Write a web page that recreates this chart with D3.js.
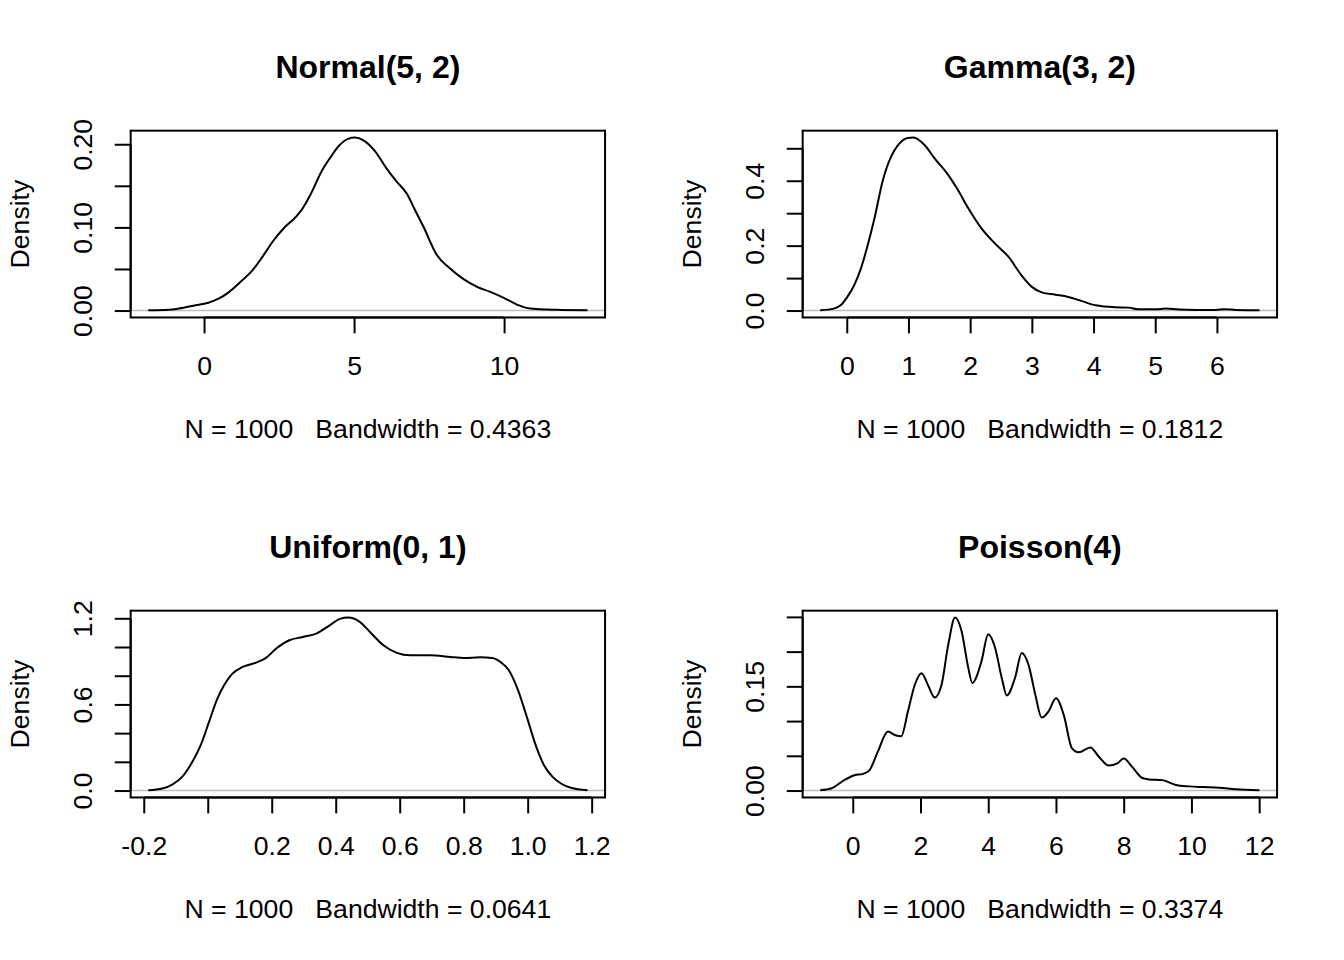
<!DOCTYPE html>
<html>
<head>
<meta charset="utf-8">
<script src="https://cdn.jsdelivr.net/npm/d3@7/dist/d3.min.js"></script>
<style>
  html, body { margin: 0; padding: 0; background: #fff; }
  svg { display: block; }
  text { font-family: "Liberation Sans", Arial, sans-serif; fill: #000; }
</style>
</head>
<body>
<svg id="chart" width="1344" height="960"></svg>
<script>
// ---------------- data ----------------
const titles = ["Normal(5, 2)", "Gamma(3, 2)", "Uniform(0, 1)", "Poisson(4)"];
const xLabels = [
  "N = 1000   Bandwidth = 0.4363",
  "N = 1000   Bandwidth = 0.1812",
  "N = 1000   Bandwidth = 0.0641",
  "N = 1000   Bandwidth = 0.3374"
];
const yLabel = "Density";

const normalDensity = [
  [-1.86,0.0004],[-1.17,0.001],[-0.84,0.0024],[-0.28,0.0064],[0.17,0.0097],[0.50,0.0145],
  [0.84,0.0225],[1.28,0.0366],[1.62,0.0487],[1.95,0.0648],[2.29,0.083],[2.68,0.0998],
  [3.07,0.113],[3.29,0.123],[3.57,0.141],[3.91,0.167],[4.19,0.183],[4.52,0.199],
  [4.80,0.2065],[5.03,0.208],[5.30,0.205],[5.69,0.192],[6.08,0.171],[6.42,0.155],
  [6.75,0.141],[7.03,0.121],[7.31,0.101],[7.76,0.0667],[8.20,0.0506],[8.65,0.0378],
  [9.10,0.0285],[9.54,0.0225],[9.99,0.0153],[10.43,0.0072],[10.88,0.0024],[11.44,0.0012],
  [11.89,0.0008],[12.78,0.0004]
];
const normalXTicks = [0, 5, 10];
const normalXTickLabels = ["0", "5", "10"];
const normalYTicks = [0, 0.05, 0.10, 0.15, 0.20];
const normalYTickLabels = ["0.00", "", "0.10", "", "0.20"];

const gammaDensity = [
  [-0.43,0.001],[-0.21,0.006],[-0.10,0.016],[0.01,0.042],[0.12,0.078],[0.23,0.130],
  [0.34,0.202],[0.45,0.285],[0.58,0.398],[0.72,0.475],[0.83,0.510],[0.99,0.532],
  [1.08,0.533],[1.26,0.510],[1.42,0.470],[1.64,0.419],[1.80,0.372],[1.97,0.315],
  [2.18,0.254],[2.40,0.207],[2.62,0.166],[2.83,0.109],[3.00,0.073],[3.16,0.056],
  [3.38,0.049],[3.59,0.042],[3.81,0.029],[4.03,0.016],[4.35,0.010],[4.57,0.009],
  [4.73,0.004],[5.01,0.004],[5.17,0.006],[5.39,0.003],[5.66,0.002],[5.98,0.002],
  [6.12,0.004],[6.31,0.002],[6.69,0.001]
];
const gammaXTicks = [0, 1, 2, 3, 4, 5, 6];
const gammaXTickLabels = ["0", "1", "2", "3", "4", "5", "6"];
const gammaYTicks = [0, 0.1, 0.2, 0.3, 0.4, 0.5];
const gammaYTickLabels = ["0.0", "", "0.2", "", "0.4", ""];

const uniformDensity = [
  [-0.186,0.002],[-0.142,0.014],[-0.111,0.042],[-0.080,0.095],[-0.048,0.200],[-0.022,0.316],
  [0.004,0.478],[0.030,0.641],[0.051,0.734],[0.077,0.815],[0.109,0.861],[0.151,0.891],
  [0.182,0.924],[0.214,0.989],[0.255,1.047],[0.297,1.070],[0.339,1.093],[0.381,1.151],
  [0.413,1.196],[0.439,1.205],[0.475,1.175],[0.507,1.105],[0.549,1.012],[0.591,0.959],
  [0.632,0.942],[0.695,0.942],[0.758,0.931],[0.800,0.924],[0.852,0.928],[0.889,0.924],
  [0.915,0.896],[0.941,0.838],[0.968,0.710],[0.999,0.501],[1.025,0.316],[1.051,0.176],
  [1.078,0.095],[1.104,0.049],[1.135,0.019],[1.187,0.002]
];
const uniformXTicks = [-0.2, 0.0, 0.2, 0.4, 0.6, 0.8, 1.0, 1.2];
const uniformXTickLabels = ["-0.2", "", "0.2", "0.4", "0.6", "0.8", "1.0", "1.2"];
const uniformYTicks = [0, 0.2, 0.4, 0.6, 0.8, 1.0, 1.2];
const uniformYTickLabels = ["0.0", "", "", "0.6", "", "", "1.2"];

const poissonDensity = [
  [-0.96,0.0005],[-0.64,0.003],[-0.25,0.015],[0.05,0.022],[0.30,0.024],[0.49,0.029],
  [0.74,0.056],[1.04,0.085],[1.24,0.080],[1.43,0.078],[1.63,0.114],[1.83,0.152],
  [2.03,0.169],[2.22,0.152],[2.42,0.134],[2.62,0.152],[2.82,0.210],[3.02,0.249],
  [3.21,0.230],[3.41,0.177],[3.53,0.155],[3.80,0.186],[4.00,0.225],[4.20,0.206],
  [4.40,0.162],[4.55,0.137],[4.79,0.162],[4.99,0.198],[5.19,0.181],[5.39,0.138],
  [5.58,0.105],[5.78,0.114],[6.00,0.133],[6.23,0.109],[6.47,0.061],[6.67,0.055],
  [7.02,0.062],[7.26,0.049],[7.56,0.036],[7.81,0.039],[8.00,0.046],[8.25,0.034],
  [8.55,0.018],[8.75,0.016],[9.14,0.015],[9.54,0.008],[9.93,0.006],[10.33,0.005],
  [10.82,0.004],[11.31,0.002],[12.01,0.0005]
];
const poissonXTicks = [0, 2, 4, 6, 8, 10, 12];
const poissonXTickLabels = ["0", "2", "4", "6", "8", "10", "12"];
const poissonYTicks = [0, 0.05, 0.10, 0.15, 0.20, 0.25];
const poissonYTickLabels = ["0.00", "", "", "0.15", "", ""];

// ---------------- layout ----------------
const panels = [
  { data: normalDensity, xt: normalXTicks, xl: normalXTickLabels, yt: normalYTicks, yl: normalYTickLabels },
  { data: gammaDensity, xt: gammaXTicks, xl: gammaXTickLabels, yt: gammaYTicks, yl: gammaYTickLabels },
  { data: uniformDensity, xt: uniformXTicks, xl: uniformXTickLabels, yt: uniformYTicks, yl: uniformYTickLabels },
  { data: poissonDensity, xt: poissonXTicks, xl: poissonXTickLabels, yt: poissonYTicks, yl: poissonYTickLabels }
];

const svg = d3.select("#chart");
const cellW = 672, cellH = 480;
const lineH = 31.87;
const mar = { bottom: 5.1 * lineH, left: 4.1 * lineH, top: 4.1 * lineH, right: 2.1 * lineH };
const axisFont = 26.6, titleFont = 32;
const tickLen = 15.9;
const lw = 2;

function padDomain(ext) {
  const r = ext[1] - ext[0];
  return [ext[0] - 0.04 * r, ext[1] + 0.04 * r];
}

panels.forEach((p, i) => {
  const col = i % 2, row = Math.floor(i / 2);
  const x0 = col * cellW + mar.left;
  const x1 = (col + 1) * cellW - mar.right;
  const y0 = row * cellH + mar.top;
  const y1 = (row + 1) * cellH - mar.bottom;

  const xs = d3.scaleLinear().domain(padDomain(d3.extent(p.data, d => d[0]))).range([x0, x1]);
  const yExt = d3.extent([0].concat(p.data.map(d => d[1])));
  const ys = d3.scaleLinear().domain(padDomain(yExt)).range([y1, y0]);

  const g = svg.append("g");

  // zero line
  g.append("line")
    .attr("x1", x0).attr("x2", x1)
    .attr("y1", ys(0)).attr("y2", ys(0))
    .attr("stroke", "#bebebe").attr("stroke-width", 1.5);

  // density curve
  const line = d3.line().x(d => xs(d[0])).y(d => ys(d[1])).curve(d3.curveMonotoneX);
  g.append("path").datum(p.data)
    .attr("d", line)
    .attr("fill", "none").attr("stroke", "#000").attr("stroke-width", lw)
    .attr("stroke-linejoin", "round");

  // box
  g.append("rect")
    .attr("x", x0).attr("y", y0).attr("width", x1 - x0).attr("height", y1 - y0)
    .attr("fill", "none").attr("stroke", "#000").attr("stroke-width", lw);

  // x axis
  const xAxis = d3.axisBottom(xs).tickValues(p.xt).tickSize(tickLen).tickSizeOuter(0)
    .tickFormat((d, k) => p.xl[k]);
  const gx = g.append("g").attr("transform", `translate(0,${y1})`).call(xAxis);
  gx.select(".domain")
    .attr("d", `M${xs(p.xt[0])},0H${xs(p.xt[p.xt.length - 1])}`)
    .attr("stroke", "#000").attr("stroke-width", lw);
  gx.selectAll(".tick line").attr("stroke", "#000").attr("stroke-width", lw);
  gx.selectAll(".tick text")
    .attr("y", 57.5).attr("dy", null)
    .attr("font-size", axisFont)
    .style("font-family", '"Liberation Sans", Arial, sans-serif')
    .attr("fill", "#000");

  // y axis
  const yAxis = d3.axisLeft(ys).tickValues(p.yt).tickSize(tickLen).tickSizeOuter(0)
    .tickFormat((d, k) => p.yl[k]);
  const gy = g.append("g").attr("transform", `translate(${x0},0)`).call(yAxis);
  gy.select(".domain")
    .attr("d", `M0,${ys(p.yt[0])}V${ys(p.yt[p.yt.length - 1])}`)
    .attr("stroke", "#000").attr("stroke-width", lw);
  gy.selectAll(".tick line").attr("stroke", "#000").attr("stroke-width", lw);
  gy.selectAll(".tick text")
    .attr("x", null).attr("dy", null)
    .attr("transform", "translate(-39,0) rotate(-90)")
    .attr("text-anchor", "middle")
    .attr("font-size", axisFont)
    .style("font-family", '"Liberation Sans", Arial, sans-serif')
    .attr("fill", "#000");

  // title
  g.append("text")
    .attr("x", (x0 + x1) / 2).attr("y", y0 - 52.4)
    .attr("text-anchor", "middle")
    .attr("font-size", titleFont).attr("font-weight", "bold")
    .text(titles[i]);

  // x label
  g.append("text")
    .attr("x", (x0 + x1) / 2).attr("y", y1 + 120.8)
    .attr("text-anchor", "middle")
    .attr("font-size", axisFont)
    .attr("xml:space", "preserve")
    .style("white-space", "pre")
    .text(xLabels[i]);

  // y label
  g.append("text")
    .attr("transform", `translate(${x0 - 101.2},${(y0 + y1) / 2}) rotate(-90)`)
    .attr("text-anchor", "middle")
    .attr("font-size", axisFont)
    .text(yLabel);
});
</script>
</body>
</html>
